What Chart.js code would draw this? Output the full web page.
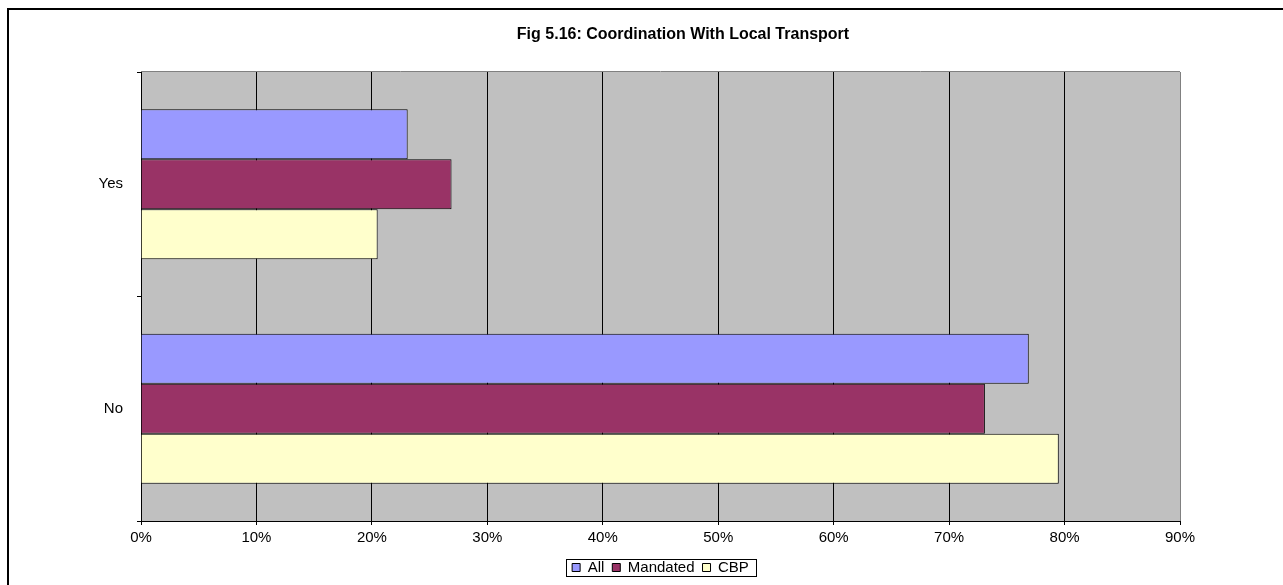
<!DOCTYPE html>
<html>
<head>
<meta charset="utf-8">
<title>Fig 5.16: Coordination With Local Transport</title>
<script src="https://cdn.jsdelivr.net/npm/chart.js@4.4.1/dist/chart.umd.min.js"></script>
<style>
  html, body { margin: 0; padding: 0; background: #fff; overflow: hidden; }
  canvas { display: block; }
</style>
</head>
<body>
<canvas id="coordChart" width="1283" height="585"></canvas>
<script>
// data (percent of respondents)
const categories = ['Yes', 'No'];
const allValues = [23.1, 76.9];
const mandatedValues = [26.9, 73.1];
const cbpValues = [20.5, 79.5];
const seriesNames = ['All', 'Mandated', 'CBP'];
const xTickMax = 90;
const xTickStep = 10;
const chartTitle = 'Fig 5.16: Coordination With Local Transport';

Chart.defaults.font.family = 'Arial, "Liberation Sans", sans-serif';
Chart.defaults.color = '#000';

// grey plot area, outer frame, title and the box round the legend
const excelFrame = {
    id: 'excelFrame',
    beforeDraw(chart) {
        const { ctx, chartArea: a } = chart;
        ctx.save();
        ctx.fillStyle = '#C0C0C0';
        ctx.fillRect(a.left, a.top, a.right - a.left, a.bottom - a.top);
        ctx.strokeStyle = '#808080';
        ctx.lineWidth = 1;
        ctx.beginPath();
        ctx.moveTo(a.left, a.top - 0.5);
        ctx.lineTo(a.right, a.top - 0.5);
        ctx.stroke();
        ctx.restore();
    },
    afterDraw(chart) {
        const { ctx } = chart;
        ctx.save();
        // outer chart border (runs off the right and bottom edge)
        ctx.fillStyle = '#000';
        ctx.fillRect(7, 8, 2, chart.height);
        ctx.fillRect(7, 8, chart.width, 2);

        // title
        ctx.font = 'bold 16px Arial, "Liberation Sans", sans-serif';
        ctx.textAlign = 'center';
        ctx.textBaseline = 'middle';
        ctx.fillText(chartTitle, 683, 35);

        // legend frame
        const hb = chart.legend.legendHitBoxes;
        if (hb && hb.length) {
            const first = hb[0];
            const last = hb[hb.length - 1];
            const left = Math.round(first.left - 6) + 0.5;
            const right = Math.round(last.left + last.width + 7) + 0.5;
            const top = Math.round(first.top - 1) + 0.5;
            const bottom = Math.round(first.top + first.height + 1) + 0.5;
            ctx.strokeStyle = '#000';
            ctx.lineWidth = 1;
            ctx.strokeRect(left, top, right - left, bottom - top);
        }
        ctx.restore();
    }
};

new Chart(document.getElementById('coordChart'), {
    type: 'bar',
    data: {
        labels: categories,
        datasets: [{
            label: seriesNames[0],
            data: allValues,
            backgroundColor: '#9999FF',
            borderColor: '#000',
            borderWidth: 1
        }, {
            label: seriesNames[1],
            data: mandatedValues,
            backgroundColor: '#993366',
            borderColor: '#000',
            borderWidth: 1
        }, {
            label: seriesNames[2],
            data: cbpValues,
            backgroundColor: '#FFFFCC',
            borderColor: '#000',
            borderWidth: 1
        }]
    },
    options: {
        indexAxis: 'y',
        responsive: false,
        animation: false,
        datasets: {
            bar: {
                barPercentage: 1,
                categoryPercentage: 0.668
            }
        },
        layout: {
            padding: { top: 72, right: 103, bottom: 0, left: 0 }
        },
        scales: {
            x: {
                min: 0,
                max: xTickMax,
                ticks: {
                    stepSize: xTickStep,
                    padding: 4,
                    font: { size: 15 },
                    color: '#000',
                    callback: (v) => v + '%'
                },
                grid: {
                    color: (c) => (c.tick && c.tick.value === xTickMax) ? '#808080' : '#000',
                    tickColor: '#000',
                    tickLength: 4,
                    lineWidth: 1
                },
                border: { display: true, color: '#000', width: 1 },
                afterFit: (scale) => { scale.height = 31; }
            },
            y: {
                ticks: {
                    padding: 14,
                    font: { size: 15 },
                    color: '#000'
                },
                grid: {
                    drawOnChartArea: false,
                    tickColor: '#000',
                    tickLength: 4,
                    offset: true
                },
                border: { display: true, color: '#000', width: 1 },
                afterFit: (scale) => { scale.width = 141; }
            }
        },
        plugins: {
            title: { display: false },
            tooltip: { enabled: false },
            legend: {
                position: 'bottom',
                fullSize: false,
                labels: {
                    boxWidth: 8,
                    boxHeight: 8,
                    padding: 8,
                    color: '#000',
                    font: { size: 15 }
                }
            }
        }
    },
    plugins: [excelFrame]
});
</script>
</body>
</html>
